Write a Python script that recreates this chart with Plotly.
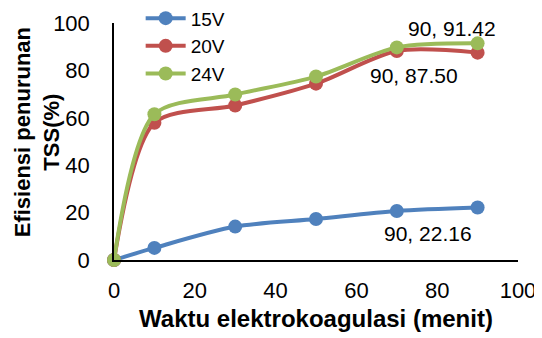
import plotly.graph_objects as go

time_min = [0, 10, 30, 50, 70, 90]
eff_15v = [0, 5.1, 14.1, 17.3, 20.7, 22.16]
eff_20v = [0, 57.9, 65.2, 74.4, 88.2, 87.50]
eff_24v = [0, 61.5, 69.8, 77.4, 89.7, 91.42]
series_names = ["15V", "20V", "24V"]
colors = ["#4F81BD", "#C0504D", "#9BBB59"]

fig = go.Figure()
for name, vals, col in zip(series_names, [eff_15v, eff_20v, eff_24v], colors):
    fig.add_trace(go.Scatter(
        x=time_min, y=vals, name=name, mode="lines+markers",
        line=dict(color=col, width=4, shape="spline", smoothing=0.8),
        marker=dict(color=col, size=14),
    ))

font = "Liberation Sans, Arial, sans-serif"
annots = [
    (time_min[-1], eff_24v[-1], f"{time_min[-1]}, {eff_24v[-1]:.2f}", -26, 15),
    (time_min[-1], eff_20v[-1], f"{time_min[-1]}, {eff_20v[-1]:.2f}", -64, -23),
    (time_min[-1], eff_15v[-1], f"{time_min[-1]}, {eff_15v[-1]:.2f}", -50, -26),
]
for x, y, t, xs, ys in annots:
    fig.add_annotation(x=x, y=y, text=t, showarrow=False, xshift=xs, yshift=ys,
                       font=dict(family=font, size=21, color="#000000"))

# y-axis title as a rotated annotation (positioned like the reference)
fig.add_annotation(xref="paper", yref="paper", x=-0.19, y=0.54,
                   xanchor="center", yanchor="middle", textangle=-90,
                   text="<b>Efisiensi penurunan<br>TSS(%)</b>", showarrow=False,
                   font=dict(family=font, size=22, color="#000000"))

fig.update_layout(
    width=534, height=330,
    margin=dict(l=106, r=24, t=15, b=78, autoexpand=False),
    paper_bgcolor="white", plot_bgcolor="white",
    font=dict(family=font, color="#000000"),
    showlegend=True,
    legend=dict(x=0.066, y=1.10, xanchor="left", yanchor="top",
                font=dict(family=font, size=19), bgcolor="rgba(0,0,0,0)",
                tracegroupgap=0, itemwidth=40),
    xaxis=dict(range=[0, 100], tickvals=[0, 20, 40, 60, 80, 100],
               showgrid=False, zeroline=False, showline=True, linecolor="#000000",
               linewidth=1.5, ticks="", tickfont=dict(size=22), ticklabelstandoff=10,
               title=dict(text="<b>Waktu elektrokoagulasi (menit)</b>",
                          font=dict(size=24), standoff=8)),
    yaxis=dict(range=[0, 100], tickvals=[0, 20, 40, 60, 80, 100],
               showgrid=False, zeroline=False, showline=True, linecolor="#000000",
               linewidth=1.5, ticks="", tickfont=dict(size=22), ticklabelstandoff=18),
)
fig.update_traces(cliponaxis=False)
fig.write_html("out.html")
